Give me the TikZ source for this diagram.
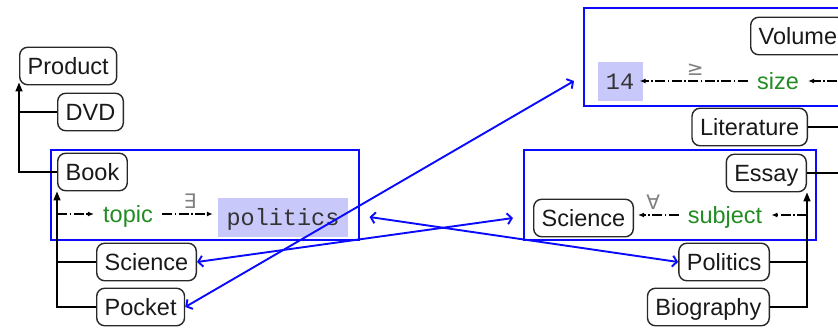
\documentclass[tikz,border=0pt]{standalone}
\usepackage{fontspec}
\setmainfont{Liberation Sans}
\newfontfamily\monofont{Liberation Mono}
\newfontfamily\symfont{DejaVu Sans}
\usetikzlibrary{arrows.meta}
\definecolor{boxblue}{RGB}{10,10,255}
\definecolor{hilite}{RGB}{200,200,250}
\definecolor{rolegreen}{RGB}{34,139,34}
\definecolor{edgegray}{RGB}{40,40,40}

\begin{document}
\begin{tikzpicture}[x=1pt,y=-1pt,
  every node/.style={font=\fontsize{23.5}{28}\selectfont},
  concept/.style={draw=edgegray, line width=1.4pt, rounded corners=8pt,
    inner xsep=8pt, inner ysep=8pt, text height=19pt, text depth=2.5pt, fill=white,
    text=black!90},
  role/.style={text=rolegreen, inner xsep=9pt, inner ysep=0pt,
    text height=19pt, text depth=2.5pt},
  literal/.style={fill=hilite, inner xsep=8pt, inner ysep=0pt, text height=19pt,
    text depth=2.5pt, minimum height=39pt, text=black!80,
    font=\fontsize{23.5}{28}\selectfont\monofont},
  restrbox/.style={draw=boxblue, line width=1.5pt, inner sep=0pt, anchor=north west},
  isa/.style={draw=black, line width=1.4pt, -{Triangle[length=9pt,width=7pt]}},
  plain/.style={draw=black, line width=1.4pt},
  rolearrow/.style={draw=black, line width=1.3pt,
    dash pattern=on 10pt off 2.5pt on 1.5pt off 2.5pt,
    -{Latex[length=6pt,width=5pt]}},
  quant/.style={text=black!50, inner sep=0pt, font=\fontsize{20}{24}\selectfont\symfont},
  link/.style={draw=boxblue, line width=1.9pt,
    {Straight Barb[length=4.5pt,width=11pt]}-{Straight Barb[length=4.5pt,width=11pt]}},
]
\useasboundingbox (0,0) rectangle (838,327);
\clip (0,0) rectangle (838,327);

% restriction boxes
\node[restrbox, minimum width=308pt, minimum height=90pt] (bookbox) at (50,149) {};
\node[restrbox, minimum width=292pt, minimum height=90pt] (rbox) at (523,149) {};
\node[restrbox, minimum width=330pt, minimum height=98pt] (topbox) at (583,7) {};

% left hierarchy
\node[concept, anchor=west] (product) at (19,66) {Product};
\node[concept, anchor=west] (dvd) at (57,112) {DVD};
\node[concept, anchor=west] (book) at (57,172) {Book};
\node[role] (topic) at (128,214) {topic};
\node[literal, minimum width=130pt] (politics) at (283,217) {politics};
\node[concept, anchor=west] (scienceL) at (96,262) {Science};
\node[concept, anchor=west] (pocket) at (96,307) {Pocket};

% right hierarchy
\node[concept, anchor=west] (volume) at (750,36) {Volume};
\node[literal, minimum width=45pt] (fourteen) at (620,81) {14};
\node[role] (size) at (778,81) {size};
\node[concept, anchor=east] (literature) at (808,127) {Literature};
\node[concept, anchor=east] (essay) at (807,173) {Essay};
\node[concept, anchor=west] (scienceR) at (533,218) {Science};
\node[role] (subject) at (725,215) {subject};
\node[concept, anchor=east] (politicsR) at (770,262) {Politics};
\node[concept, anchor=east] (biography) at (770,307) {Biography};

% continuation points to the right
\coordinate (sizesrc) at (870,81);
\coordinate (litend) at (870,127);
\coordinate (essayend) at (870,173);

% subclass edges
\draw[isa, shorten >=-3pt] (book.west) -| (product.south west);
\draw[plain] (dvd.west) -- (dvd.west -| product.south west);
\draw[isa] (pocket.west) -| (book.south west);
\draw[plain] (scienceL.west) -- (scienceL.west -| book.south west);
\draw[isa] (biography.east) -| (essay.south east);
\draw[plain] (politicsR.east) -- (politicsR.east -| essay.south east);
\draw[plain] (literature.east) -- (litend);
\draw[plain] (essay.east) -- (essayend);

% role restrictions
\draw[rolearrow] (book.south west |- topic.west) -- (topic.west);
\draw[rolearrow, shorten >=5pt] (topic.east) -- node[quant, above=5pt]{∃} (politics.west |- topic.east);
\draw[rolearrow] (essay.south east |- subject.east) -- (subject.east);
\draw[rolearrow, shorten >=4pt] (subject.west) -- node[quant, above=5pt, xshift=-3pt]{∀} (scienceR.east |- subject.west);
\draw[rolearrow] (sizesrc) -- (size.east);
\draw[rolearrow, shorten >=-3pt] (size.west) -- node[quant, above=5pt]{≥} (fourteen.east);

% equivalence links
\coordinate (topin) at ([xshift=-9pt]topbox.west |- fourteen.center);
\coordinate (rboxin) at ([xshift=-10pt]rbox.west |- scienceR.center);
\coordinate (bboxout) at ([xshift=10pt]bookbox.east |- politics.center);
\draw[link] (pocket.east) -- (topin);
\draw[link] (scienceL.east) -- (rboxin);
\draw[link] (bboxout) -- (politicsR.west);
\end{tikzpicture}
\end{document}
